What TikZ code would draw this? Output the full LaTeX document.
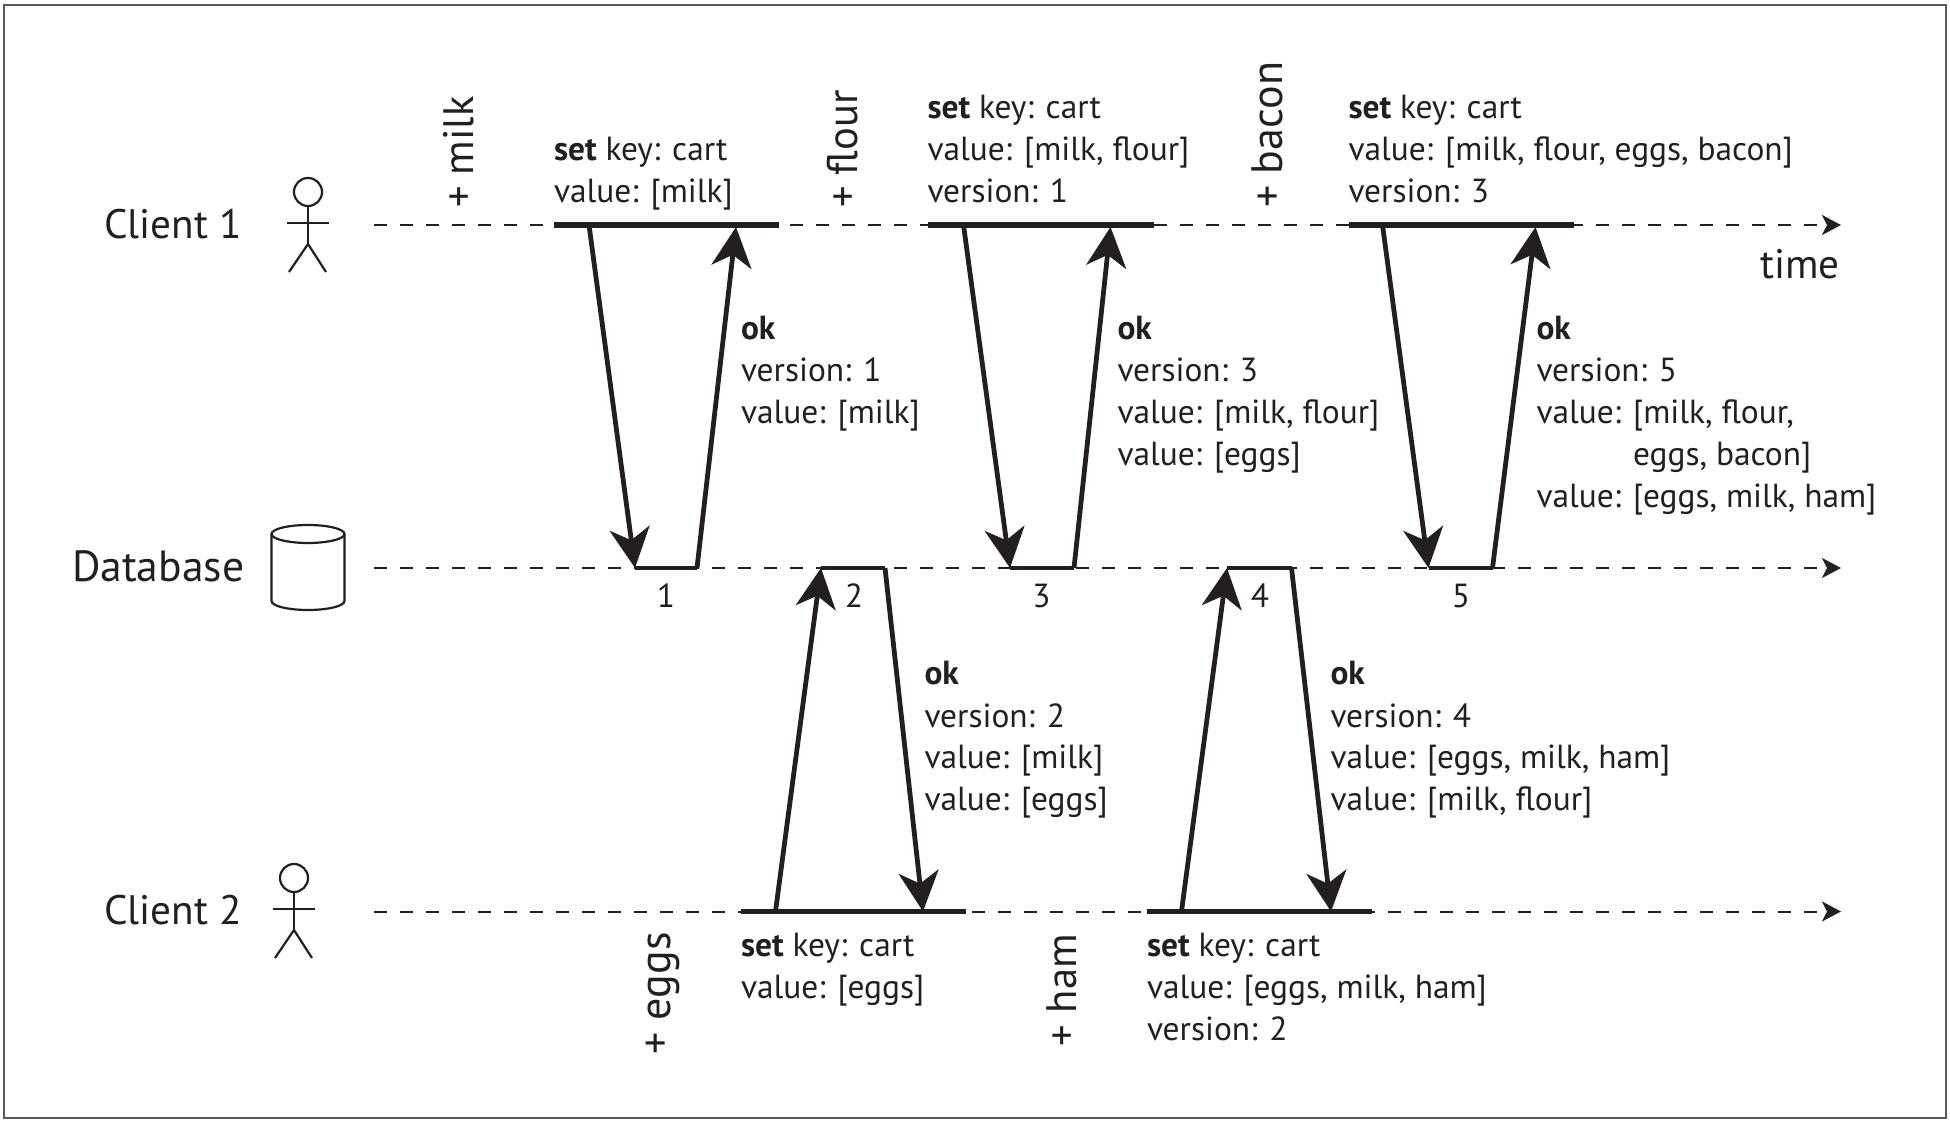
\documentclass[tikz,border=0pt]{standalone}
\usepackage{fontspec}
\setmainfont{PT Sans}
\usetikzlibrary{arrows.meta}
\definecolor{ink}{HTML}{231F20}
\newcommand{\smallfs}{\fontsize{16.7pt}{21pt}\selectfont}
\newcommand{\bigfs}{\fontsize{20.6pt}{24pt}\selectfont}
\newcommand{\dbfs}{\fontsize{21.8pt}{24pt}\selectfont}
\newcommand{\addfs}{\fontsize{21.3pt}{24pt}\selectfont}
\tikzset{
  x=0.5pt,y=-0.5pt,
  every node/.style={inner sep=0pt,outer sep=0pt,text=ink},
  info/.style={anchor=base west,align=left,font=\smallfs},
  seqnum/.style={anchor=base,font=\smallfs},
  biglabel/.style={anchor=base west,font=\bigfs},
  addlabel/.style={anchor=base west,rotate=90,font=\addfs},
  timeline/.style={draw=ink,line width=1pt,dash pattern=on 6.5pt off 6.5pt,-{Stealth[length=9.5pt,width=10pt,inset=2.5pt]}},
  heavy/.style={draw=ink,line width=2.8pt},
  dbseg/.style={draw=ink,line width=2.2pt},
  msg/.style={draw=ink,line width=2.4pt,-{Stealth[length=20pt,width=20pt,inset=6pt]}},
  thin/.style={draw=ink,line width=1.1pt},
}
\begin{document}
\begin{tikzpicture}
\useasboundingbox (0,0) rectangle (1950,1122);
\fill[white] (0,0) rectangle (1950,1122);
\draw[draw=black!65,line width=1pt] (4,5) rectangle (1946,1118);

% coordinates
\coordinate (c1s) at (374,225); \coordinate (c1e) at (1841,225);
\coordinate (dbs) at (374,568); \coordinate (dbe) at (1841,568);
\coordinate (c2s) at (374,911.5); \coordinate (c2e) at (1841,911.5);

\draw[timeline] (c1s) -- (c1e);
\draw[timeline] (dbs) -- (dbe);
\draw[timeline] (c2s) -- (c2e);

% heavy client segments
\coordinate (a1) at (554,225); \coordinate (a2) at (779,225);
\coordinate (b1) at (927.5,225); \coordinate (b2) at (1153.5,225);
\coordinate (d1) at (1348.5,225); \coordinate (d2) at (1573.5,225);
\coordinate (e1) at (740.5,911.5); \coordinate (e2) at (965.5,911.5);
\coordinate (f1) at (1146.5,911.5); \coordinate (f2) at (1371.5,911.5);
\draw[heavy] (a1) -- (a2);
\draw[heavy] (b1) -- (b2);
\draw[heavy] (d1) -- (d2);
\draw[heavy] (e1) -- (e2);
\draw[heavy] (f1) -- (f2);

% database segments
\coordinate (v1a) at (635,568); \coordinate (v1b) at (697,568);
\coordinate (v2a) at (821,568); \coordinate (v2b) at (885,568);
\coordinate (v3a) at (1010,568); \coordinate (v3b) at (1074,568);
\coordinate (v4a) at (1227,568); \coordinate (v4b) at (1291.5,568);
\coordinate (v5a) at (1428.5,568); \coordinate (v5b) at (1492.5,568);
\draw[dbseg] (v1a) -- (v1b);
\draw[dbseg] (v2a) -- (v2b);
\draw[dbseg] (v3a) -- (v3b);
\draw[dbseg] (v4a) -- (v4b);
\draw[dbseg] (v5a) -- (v5b);

% messages
\coordinate (m1s) at (589,225); \coordinate (m1t) at (736,227);
\coordinate (m3s) at (963.5,225); \coordinate (m3t) at (1110.5,227);
\coordinate (m5s) at (1382.5,225); \coordinate (m5t) at (1535.5,227);
\draw[msg] (m1s) -- (v1a);
\draw[msg] (v1b) -- (m1t);
\draw[msg] (m3s) -- (v3a);
\draw[msg] (v3b) -- (m3t);
\draw[msg] (m5s) -- (v5a);
\draw[msg] (v5b) -- (m5t);
\coordinate (m2s) at (775.5,911.5); \coordinate (m2t) at (923,911.5);
\coordinate (m4s) at (1181.5,911.5); \coordinate (m4t) at (1331,911.5);
\draw[msg] (m2s) -- (v2a);
\draw[msg] (v2b) -- (m2t);
\draw[msg] (m4s) -- (v4a);
\draw[msg] (v4b) -- (m4t);

% actors
\draw[thin] (308,192) circle [x radius=14,y radius=14];
\draw[thin] (308,206) -- (308,244);
\draw[thin] (287,223) -- (329,223);
\draw[thin] (289,272) -- (308,244) -- (326,272);
\begin{scope}[yshift=-343pt,xshift=-7pt]
\draw[thin] (308,192) circle [x radius=14,y radius=14];
\draw[thin] (308,206) -- (308,244);
\draw[thin] (287,223) -- (329,223);
\draw[thin] (289,272) -- (308,244) -- (326,272);
\end{scope}

% database cylinder
\draw[thin] (308,534) ellipse [x radius=36.5,y radius=9];
\draw[thin] (271.5,534) -- (271.5,601) arc [start angle=180,end angle=0,x radius=36.5,y radius=9] -- (344.5,534);

% labels
\node[biglabel] (lc1) at (104,238.5) {Client 1};
\node[biglabel] (lc2) at (104,924) {Client 2};
\node[biglabel,font=\dbfs] (ldb) at (72,581.5) {Database};
\node[biglabel,anchor=base east] (ltime) at (1839.5,279) {time};

\node[addlabel] (pmilk) at (473,208) {+ milk};
\node[addlabel] (pflour) at (857,208) {+ flour};
\node[addlabel,font=\fontsize{22pt}{24pt}\selectfont] (pbacon) at (1282,208) {+ bacon};
\node[addlabel,font=\fontsize{22pt}{24pt}\selectfont] (peggs) at (670.5,1054) {+ eggs};
\node[addlabel] (pham) at (1076,1046) {+ ham};

\node[info] (s1) at (554,203) {\textbf{set} key: cart\\value: [milk]};
\node[info] (s2) at (927.5,203) {\textbf{set} key: cart\\value: [milk, flour]\\version: 1};
\node[info] (s3) at (1348.5,203) {\textbf{set} key: cart\\value: [milk, flour, eggs, bacon]\\version: 3};
\node[info] (s4) at (741,998.5) {\textbf{set} key: cart\\value: [eggs]};
\node[info] (s5) at (1147,1040.5) {\textbf{set} key: cart\\value: [eggs, milk, ham]\\version: 2};

\node[info] (k1) at (741,424) {\textbf{ok}\\version: 1\\value: [milk]};
\node[info] (k3) at (1117.5,466) {\textbf{ok}\\version: 3\\value: [milk, flour]\\value: [eggs]};
\node[info] (k5) at (1536.5,508) {\textbf{ok}\\version: 5\\value: [milk, flour,\\\phantom{value: }eggs, bacon]\\value: [eggs, milk, ham]};
\node[info] (k2) at (924.5,811) {\textbf{ok}\\version: 2\\value: [milk]\\value: [eggs]};
\node[info] (k4) at (1330.5,811) {\textbf{ok}\\version: 4\\value: [eggs, milk, ham]\\value: [milk, flour]};

\node[seqnum] (n1) at (666,608) {1};
\node[seqnum] (n2) at (854,608) {2};
\node[seqnum] (n3) at (1041.5,608) {3};
\node[seqnum] (n4) at (1260,608) {4};
\node[seqnum] (n5) at (1461,608) {5};
\end{tikzpicture}
\end{document}
